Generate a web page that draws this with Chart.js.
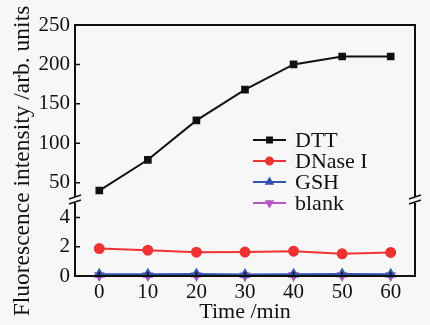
<!DOCTYPE html>
<html><head><meta charset="utf-8">
<script src="https://cdn.jsdelivr.net/npm/chart.js@4/dist/chart.umd.min.js"></script>
<style>html,body{margin:0;padding:0;background:#f7f7f7;}#wrap{width:430px;height:325px;}</style>
</head><body><div id="wrap"><canvas id="c" width="430" height="325"></canvas></div>
<script>
const times = [0, 10, 20, 30, 40, 50, 60];
const dtt = [40, 79, 129, 168, 200, 210, 210];
const dnase = [1.88, 1.77, 1.63, 1.64, 1.70, 1.52, 1.61];
const gsh = [0.12, 0.12, 0.14, 0.10, 0.12, 0.14, 0.12];
const blank = [0.03, 0.03, 0.03, 0.02, 0.03, 0.03, 0.03];
const xTickVals = [0, 10, 20, 30, 40, 50, 60];
const highTickVals = [50, 100, 150, 200, 250];
const lowTickVals = [0, 2, 4];
const seriesNames = ['DTT', 'DNase I', 'GSH', 'blank'];
const xTitle = 'Time /min';
const yTitle = 'Fluorescence intensity /arb. units';

const FONT = 'Liberation Serif';
const pts = arr => arr.map((v, i) => ({x: times[i], y: v}));

const framePlugin = {
  id: 'frame',
  afterDraw(chart) {
    const ctx = chart.ctx, a = chart.chartArea;
    const yH = chart.scales.yHigh, yL = chart.scales.yLow, x = chart.scales.x;
    ctx.save();
    ctx.strokeStyle = '#111'; ctx.lineWidth = 2;
    ctx.beginPath();
    ctx.moveTo(a.left, a.top); ctx.lineTo(a.right, a.top); ctx.lineTo(a.right, a.bottom);
    ctx.lineTo(a.left, a.bottom); ctx.closePath(); ctx.stroke();
    ctx.lineWidth = 1.5;
    ctx.beginPath();
    highTickVals.forEach(v => { const p = yH.getPixelForValue(v); ctx.moveTo(a.left, p); ctx.lineTo(a.left + 5, p); });
    lowTickVals.forEach(v => { const p = yL.getPixelForValue(v); ctx.moveTo(a.left, p); ctx.lineTo(a.left + 5, p); });
    xTickVals.forEach(v => { const p = x.getPixelForValue(v); ctx.moveTo(p, a.bottom); ctx.lineTo(p, a.bottom - 4); });
    ctx.stroke();
    // axis breaks
    const by = yL.top;
    [a.left, a.right].forEach(bx => {
      ctx.fillStyle = '#f7f7f7';
      ctx.fillRect(bx - 2, by - 3, 4, 6);
      ctx.strokeStyle = '#111'; ctx.lineWidth = 1.5;
      ctx.beginPath();
      ctx.moveTo(bx - 6, by - 1); ctx.lineTo(bx + 6, by - 5);
      ctx.moveTo(bx - 6, by + 4); ctx.lineTo(bx + 6, by);
      ctx.stroke();
    });
    // y title
    ctx.fillStyle = '#111';
    ctx.font = '23.5px "' + FONT + '"';
    ctx.textAlign = 'center'; ctx.textBaseline = 'middle';
    ctx.translate(23, 161);
    ctx.rotate(-Math.PI / 2);
    ctx.fillText(yTitle, 0, 0);
    ctx.restore();
    // legend
    ctx.save();
    const lx = 253, ly = 140, gap = 21;
    chart.data.datasets.forEach((ds, i) => {
      const yy = ly + i * gap;
      ctx.strokeStyle = ds.borderColor; ctx.lineWidth = 2;
      ctx.beginPath(); ctx.moveTo(lx, yy); ctx.lineTo(lx + 33, yy); ctx.stroke();
      ctx.fillStyle = ds.borderColor; ctx.strokeStyle = ds.borderColor;
      Chart.helpers.drawPoint(ctx, {pointStyle: ds.pointStyle, radius: 3.5, rotation: ds.pointRotation || 0, borderWidth: 1}, lx + 16.5, yy);
      ctx.fillStyle = '#111';
      ctx.font = '22px "' + FONT + '"';
      ctx.textAlign = 'left'; ctx.textBaseline = 'middle';
      ctx.fillText(ds.label, lx + 42, yy + 1);
    });
    ctx.restore();
  }
};

const mk = (label, data, color, style, axis, rot) => ({
  label, data, borderColor: color, backgroundColor: color,
  pointBackgroundColor: color, pointBorderColor: color,
  pointStyle: style, pointRadius: style === 'rect' ? 4 : 4.5, pointRotation: rot || 0,
  borderWidth: 2, yAxisID: axis, xAxisID: 'x', clip: false, tension: 0
});

const tickFont = {family: FONT, size: 21};

new Chart(document.getElementById('c'), {
  type: 'line',
  data: {
    datasets: [
      mk(seriesNames[0], pts(dtt), '#111111', 'rect', 'yHigh'),
      mk(seriesNames[1], pts(dnase), '#f03232', 'circle', 'yLow'),
      mk(seriesNames[2], pts(gsh), '#2f55b0', 'triangle', 'yLow'),
      mk(seriesNames[3], pts(blank), '#b455c4', 'triangle', 'yLow', 180)
    ]
  },
  options: {
    responsive: false, animation: false, devicePixelRatio: 1,
    layout: {padding: {top: 25, right: 15, left: 0, bottom: 0}},
    plugins: {legend: {display: false}, tooltip: {enabled: false}},
    scales: {
      x: {
        type: 'linear', min: -5, max: 65,
        afterBuildTicks: s => { s.ticks = xTickVals.map(v => ({value: v})); },
        afterFit: s => { s.height = 49; },
        grid: {drawOnChartArea: false, drawTicks: false},
        border: {display: false},
        ticks: {color: '#111', padding: 4, autoSkip: false, maxRotation: 0, font: tickFont},
        title: {display: true, text: xTitle, color: '#111', padding: {top: 0, bottom: 0}, font: {family: FONT, size: 22}}
      },
      yLow: {
        type: 'linear', position: 'left', stack: 'v', stackWeight: 76,
        min: 0, max: 5.2,
        afterBuildTicks: s => { s.ticks = lowTickVals.map(v => ({value: v})); },
        afterFit: s => { s.width = 75; },
        grid: {drawOnChartArea: false, drawTicks: false},
        border: {display: false},
        ticks: {color: '#111', padding: 5, autoSkip: false, font: tickFont}
      },
      yHigh: {
        type: 'linear', position: 'left', stack: 'v', stackWeight: 175,
        min: 28, max: 250,
        afterBuildTicks: s => { s.ticks = highTickVals.map(v => ({value: v})); },
        afterFit: s => { s.width = 75; },
        grid: {drawOnChartArea: false, drawTicks: false},
        border: {display: false},
        ticks: {color: '#111', padding: 5, autoSkip: false, font: tickFont}
      }
    }
  },
  plugins: [framePlugin]
});
</script></body></html>
